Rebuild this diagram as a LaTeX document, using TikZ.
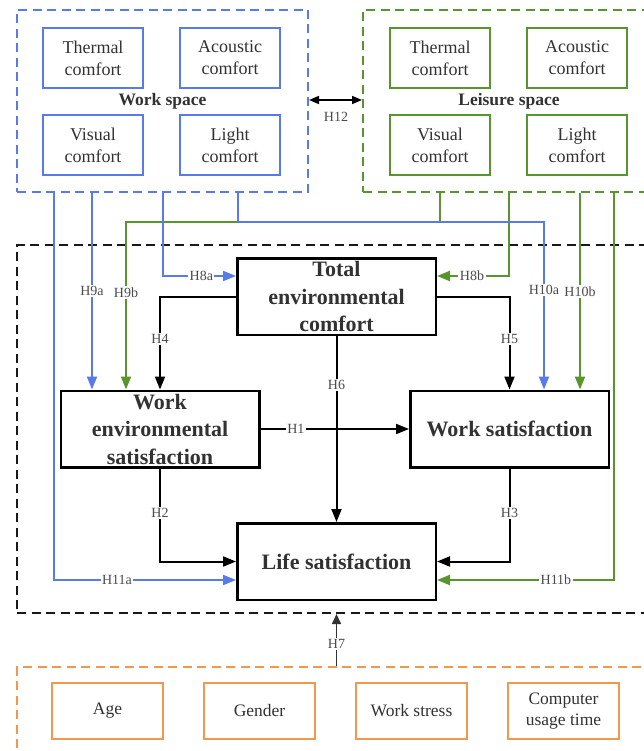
\documentclass[tikz,border=0pt]{standalone}
\usepackage{fontspec}
\setmainfont{Liberation Serif}
\usetikzlibrary{arrows.meta,positioning,calc}

\definecolor{wsblue}{RGB}{88,122,235}
\definecolor{lsgreen}{RGB}{88,150,45}
\definecolor{ctorange}{RGB}{242,152,78}
\definecolor{textgray}{RGB}{50,50,50}
\definecolor{hypgray}{RGB}{75,75,75}

\begin{document}
\begin{tikzpicture}[x=1pt,y=-1pt]
\tikzset{SPACE/.style={draw,rectangle,line width=2pt,dash pattern=on 9pt off 5.5pt,inner sep=0pt,text=textgray,font=\fontsize{17.5}{21}\selectfont\bfseries}}
\tikzset{COMFORT/.style={draw,rectangle,line width=2.2pt,minimum width=100pt,minimum height=60pt,align=center,text=textgray,font=\fontsize{18}{22}\selectfont}}
\tikzset{WS COMFORT/.style={COMFORT,draw=wsblue}}
\tikzset{LS COMFORT/.style={COMFORT,draw=lsgreen}}
\tikzset{CONSTRUCT/.style={draw,rectangle,line width=2.5pt,minimum width=198.5pt,minimum height=76.5pt,inner sep=0pt,align=center,text=textgray,font=\fontsize{22}{27.5}\selectfont\bfseries}}
\tikzset{CONTROL/.style={draw=ctorange,rectangle,line width=2pt,minimum width=111pt,minimum height=56pt,align=center,text=textgray,font=\fontsize{17.5}{21.5}\selectfont}}

\tikzset{LINK/.style={draw,line width=2pt,-{Triangle[length=13pt,width=10pt]}}}
\tikzset{BLUE LINK/.style={LINK,wsblue}}
\tikzset{GREEN LINK/.style={LINK,lsgreen}}
\tikzset{HYP/.style={fill=white,inner sep=1.5pt,text=hypgray,font=\fontsize{14}{16}\selectfont}}

\clip (0,0) rectangle (644,751);

% spaces and frames
\node[SPACE,draw=wsblue,minimum width=291pt,minimum height=182pt] (workspace) at (162.5,101) {Work space};
\node[SPACE,draw=lsgreen,minimum width=292pt,minimum height=182pt] (leisurespace) at (509,101) {Leisure space};
\node[SPACE,draw=black!90,minimum width=639pt,minimum height=368pt] (model) at (336.5,429) {};
\node[SPACE,draw=ctorange,minimum width=639pt,minimum height=100pt] (controls) at (336.5,717) {};

% comfort items
\node[WS COMFORT] (ws thermal) at (93,58) {Thermal\\comfort};
\node[WS COMFORT,right=35pt of ws thermal] (ws acoustic) {Acoustic\\comfort};
\node[WS COMFORT,below=25pt of ws thermal] (ws visual) {Visual\\comfort};
\node[WS COMFORT,below=25pt of ws acoustic] (ws light) {Light\\comfort};

\node[LS COMFORT] (ls thermal) at (440,58) {Thermal\\comfort};
\node[LS COMFORT,right=35pt of ls thermal] (ls acoustic) {Acoustic\\comfort};
\node[LS COMFORT,below=25pt of ls thermal] (ls visual) {Visual\\comfort};
\node[LS COMFORT,below=25pt of ls acoustic] (ls light) {Light\\comfort};

% constructs
\node[CONSTRUCT] (totalcomfort) at (336.5,296.5) {Total\\environmental\\comfort};
\node[CONSTRUCT] (workenv) at (160,429) {Work\\environmental\\satisfaction};
\node[CONSTRUCT] (worksat) at (509.5,429) {Work satisfaction};
\node[CONSTRUCT] (lifesat) at (336.5,561.5) {Life satisfaction};

% control variables
\node[CONTROL] (age) at (107.5,711) {Age};
\node[CONTROL,right=39pt of age] (gender) {Gender};
\node[CONTROL,right=39pt of gender] (stress) {Work stress};
\node[CONTROL,right=39pt of stress] (usage) {Computer\\usage time};

% H12
\draw[line width=1.6pt,{Triangle[length=10pt,width=8pt]}-{Triangle[length=10pt,width=8pt]}] (workspace.east |- 0,100) -- (leisurespace.west |- 0,100);
\node[HYP,fill=none] (h12) at (336,117) {H12};

% leisure space paths
\path[GREEN LINK] (440,0 |- leisurespace.south) |- (126,222) -- node[HYP,pos=0.42] {H9b} (126,0 |- workenv.north);
\path[GREEN LINK] (leisurespace.south) |- node[HYP,pos=0.757] {H8b} (totalcomfort.east |- 0,276);
\path[GREEN LINK] (580,0 |- leisurespace.south) -- node[HYP,pos=0.5] {H10b} (580,0 |- worksat.north);
\path[GREEN LINK] (614,0 |- leisurespace.south) |- node[HYP,pos=0.664] {H11b} (lifesat.east |- 0,580);

% work space paths
\path[BLUE LINK] (54,0 |- workspace.south) |- node[HYP,pos=0.673] {H11a} (lifesat.west |- 0,580);
\path[BLUE LINK] (92,0 |- workspace.south) -- node[HYP,pos=0.5] {H9a} (92,0 |- workenv.north);
\path[BLUE LINK] (workspace.south) |- node[HYP,pos=0.764] {H8a} (totalcomfort.west |- 0,276);
\path[BLUE LINK] (238,0 |- workspace.south) |- (544,222) -- node[HYP,pos=0.407] {H10a} (544,0 |- worksat.north);

% model paths
\path[LINK] (totalcomfort.west |- 0,297) -| node[HYP,pos=0.728] {H4} (workenv.north);
\path[LINK] (totalcomfort.east |- 0,297) -| node[HYP,pos=0.728] {H5} (worksat.north);
\path[LINK] (totalcomfort.south) -- node[HYP,pos=0.263] {H6} (lifesat.north);
\path[LINK] (workenv.east) -- node[HYP,pos=0.238] {H1} (worksat.west);
\path[LINK] (workenv.south) |- node[HYP,pos=0.238] {H2} (lifesat.west);
\path[LINK] (worksat.south) |- node[HYP,pos=0.238] {H3} (lifesat.east);

% controls
\path[draw=black!80,line width=1.6pt,-{Triangle[length=10pt,width=9pt]}] (controls.north) -- node[HYP,pos=0.426] {H7} (model.south);
\end{tikzpicture}
\end{document}
